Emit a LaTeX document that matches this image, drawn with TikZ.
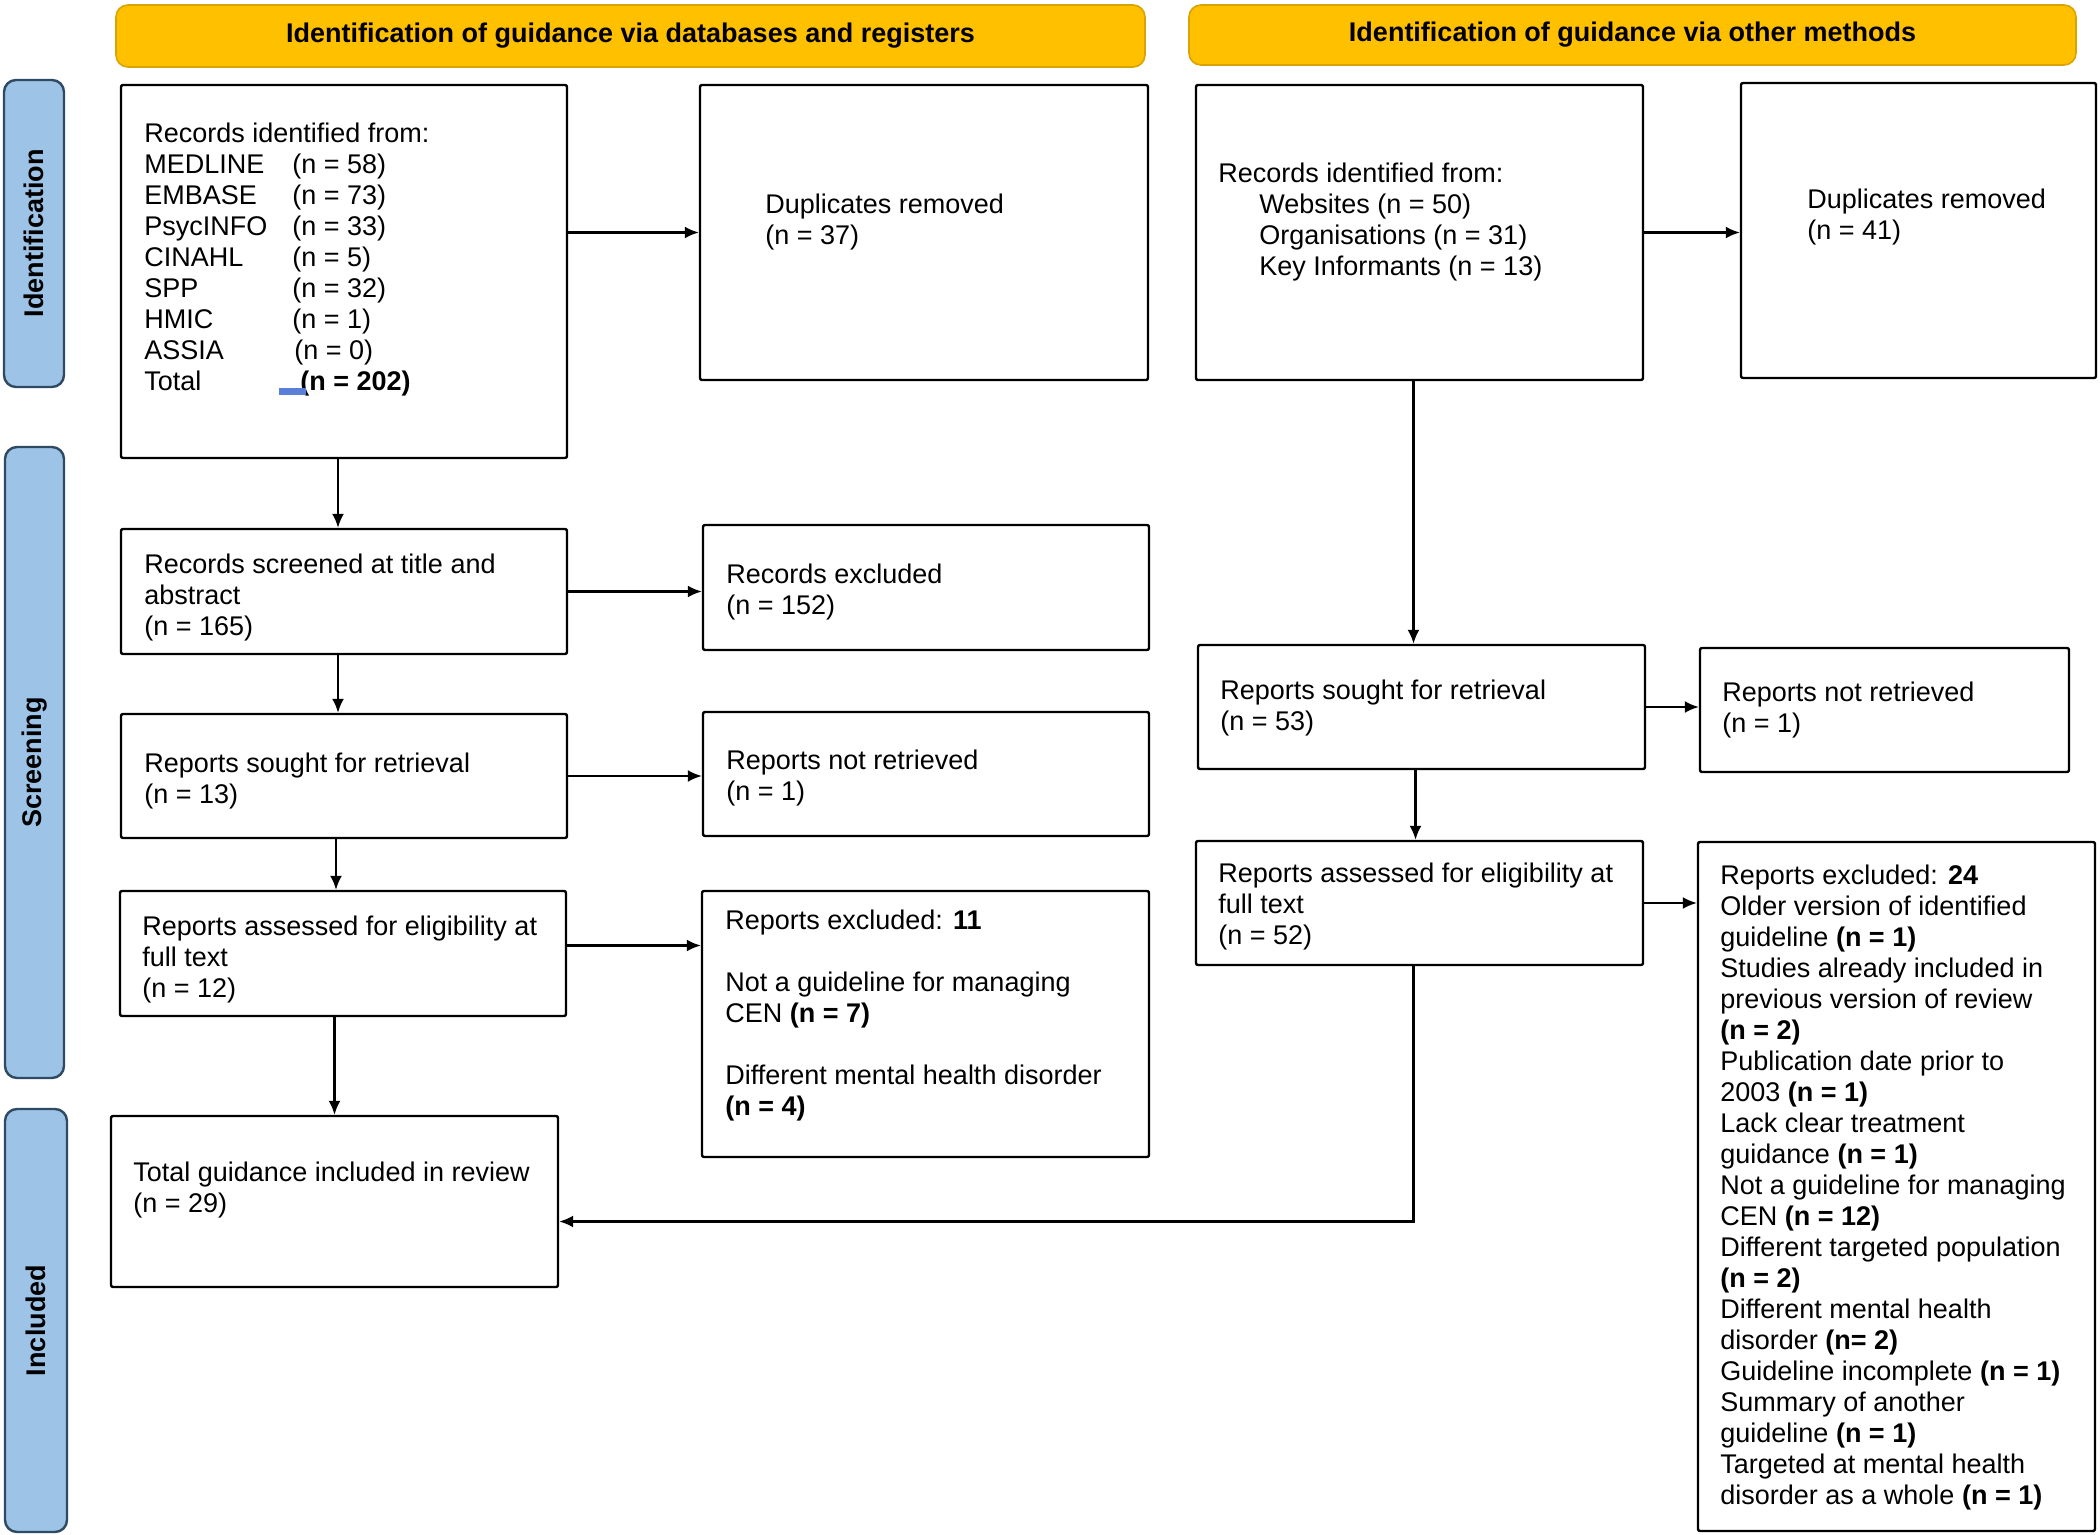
\documentclass[tikz,border=0pt]{standalone}
\usepackage{fontspec}
\setmainfont{Liberation Sans}
\usetikzlibrary{arrows.meta,fit,calc}
\definecolor{hdr}{HTML}{FFC000}
\definecolor{hdrline}{HTML}{D9A400}
\definecolor{side}{HTML}{9DC3E6}
\definecolor{sideline}{HTML}{2F4A63}
\definecolor{markblue}{HTML}{5A7FD8}
\newcommand\pfont{\fontsize{13.5}{15.5}\selectfont}
\begin{document}
\begin{tikzpicture}[x=0.5pt,y=-0.5pt,
  box/.style={draw=black, line width=1.2pt, rounded corners=1pt, inner sep=0pt, fill=white},
  txt/.style={anchor=north west, inner sep=0pt, align=left, font=\pfont},
  hdrbox/.style={draw=hdrline, fill=hdr, line width=0.8pt, rounded corners=6pt, inner sep=0pt, font=\pfont\bfseries},
  sidebox/.style={draw=sideline, fill=side, line width=1.2pt, rounded corners=6pt, inner sep=0pt},
  sidetxt/.style={rotate=90, font=\pfont\bfseries},
  arr/.style={-{Latex[length=7pt,width=6pt]}, line width=1.1pt},
]
\useasboundingbox (0,0) rectangle (2100,1535);

% headers
\node[hdrbox, fit={(116,5)(1145,67)}] (h1) {};
\node[font=\pfont\bfseries] (h1t) at (h1.center) {Identification of guidance via databases and registers};
\node[hdrbox, fit={(1189,5)(2076,65)}] (h2) {};
\node[font=\pfont\bfseries] (h2t) at (h2.center) {Identification of guidance via other methods};

% side labels
\node[sidebox, fit={(4,80)(64,387)}] (s1) {};
\node[sidetxt] (s1t) at (s1.center) {Identification};
\node[sidebox, fit={(5,447)(64,1078)}] (s2) {};
\node[sidetxt] (s2t) at (s2.center) {Screening};
\node[sidebox, fit={(5,1109)(67,1532)}] (s3) {};
\node[sidetxt] (s3t) at (s3.center) {Included};

% left column boxes
\node[box, fit={(121,85)(567,458)}] (b1) {};
\node[box, fit={(700,85)(1148,380)}] (dup1) {};
\node[box, fit={(121,529)(567,654)}] (scr) {};
\node[box, fit={(703,525)(1149,650)}] (recx) {};
\node[box, fit={(121,714)(567,838)}] (sought) {};
\node[box, fit={(703,712)(1149,836)}] (nr) {};
\node[box, fit={(120,891)(566,1016)}] (assessed) {};
\node[box, fit={(702,891)(1149,1157)}] (excl11) {};
\node[box, fit={(111,1116)(558,1287)}] (total) {};

% right column boxes
\node[box, fit={(1196,85)(1643,380)}] (ri2) {};
\node[box, fit={(1741,83)(2096,378)}] (dup2) {};
\node[box, fit={(1198,645)(1645,769)}] (sought2) {};
\node[box, fit={(1700,648)(2069,772)}] (nr2) {};
\node[box, fit={(1196,841)(1643,965)}] (assess2) {};
\node[box, fit={(1698,842)(2095,1531)}] (excl2) {};

% texts
\node[txt] (b1t) at (144,120) {\strut Records identified from:\\
\makebox[74pt][l]{MEDLINE}(n = 58)\\
\makebox[74pt][l]{EMBASE}(n = 73)\\
\makebox[74pt][l]{PsycINFO}(n = 33)\\
\makebox[74pt][l]{CINAHL}(n = 5)\\
\makebox[74pt][l]{SPP}(n = 32)\\
\makebox[74pt][l]{HMIC}(n = 1)\\
\makebox[75pt][l]{ASSIA}(n = 0)\\
\makebox[78pt][l]{Total}\textbf{(n = 202)}};
\fill[markblue] (279,388) rectangle (306,395);

\node[txt] (dup1t) at (765,191) {\strut Duplicates removed\\(n = 37)};
\node[txt] (scrt) at (144,551) {\strut Records screened at title and\\abstract\\(n = 165)};
\node[txt] (recxt) at (726,561) {\strut Records excluded\\(n = 152)};
\node[txt] (soughtt) at (144,750) {\strut Reports sought for retrieval\\(n = 13)};
\node[txt] (nrt) at (726,747) {\strut Reports not retrieved\\(n = 1)};
\node[txt] (assessedt) at (142,913) {\strut Reports assessed for eligibility at\\full text\\(n = 12)};
\node[txt] (excl11t) at (725,907) {\strut Reports excluded: \textbf{11}\\[15.5pt]
Not a guideline for managing\\CEN \textbf{(n = 7)}\\[15.5pt]
Different mental health disorder\\\textbf{(n = 4)}};
\node[txt] (totalt) at (133,1159) {\strut Total guidance included in review\\(n = 29)};

\node[txt] (ri2t) at (1218,160) {\strut Records identified from:\\
\hspace*{20.5pt}Websites (n = 50)\\
\hspace*{20.5pt}Organisations (n = 31)\\
\hspace*{20.5pt}Key Informants (n = 13)};
\node[txt] (dup2t) at (1807,186) {\strut Duplicates removed\\(n = 41)};
\node[txt] (sought2t) at (1220,677) {\strut Reports sought for retrieval\\(n = 53)};
\node[txt] (nr2t) at (1722,679) {\strut Reports not retrieved\\(n = 1)};
\node[txt] (assess2t) at (1218,860) {\strut Reports assessed for eligibility at\\full text\\(n = 52)};
\node[txt] (excl2t) at (1720,862) {\strut Reports excluded: \textbf{24}\\
Older version of identified\\
guideline \textbf{(n = 1)}\\
Studies already included in\\
previous version of review\\
\textbf{(n = 2)}\\
Publication date prior to\\
2003 \textbf{(n = 1)}\\
Lack clear treatment\\
guidance \textbf{(n = 1)}\\
Not a guideline for managing\\
CEN \textbf{(n = 12)}\\
Different targeted population\\
\textbf{(n = 2)}\\
Different mental health\\
disorder \textbf{(n= 2)}\\
Guideline incomplete \textbf{(n = 1)}\\
Summary of another\\
guideline \textbf{(n = 1)}\\
Targeted at mental health\\
disorder as a whole \textbf{(n = 1)}};

% connectors
\draw[arr] (b1.east |- dup1.west) -- (dup1.west);
\draw[arr] ([xshift=-3pt]b1.south) -- ([xshift=-3pt]scr.north);
\draw[arr] (scr.east) -- (scr.east -| recx.west);
\draw[arr] ([xshift=-3pt]scr.south) -- ([xshift=-3pt]sought.north);
\draw[arr] (sought.east) -- (sought.east -| nr.west);
\draw[arr] ([xshift=-4pt]sought.south) -- ([xshift=-4pt]sought.south |- assessed.north);
\draw[arr] ([yshift=4pt]assessed.east) -- ([yshift=4pt]assessed.east -| excl11.west);
\draw[arr] (assessed.south -| total.north) -- (total.north);

\draw[arr] (ri2.east) -- (ri2.east -| dup2.west);
\draw[arr] ([xshift=-3pt]ri2.south) -- ([xshift=-3pt]ri2.south |- sought2.north);
\draw[arr] (sought2.east) -- (sought2.east -| nr2.west);
\draw[arr] ([xshift=-3pt]sought2.south) -- ([xshift=-3pt]sought2.south |- assess2.north);
\draw[arr] (assess2.east) -- (assess2.east -| excl2.west);
\draw[arr] ([xshift=-3pt]assess2.south) |- ([yshift=-10pt]total.east);
\end{tikzpicture}
\end{document}
